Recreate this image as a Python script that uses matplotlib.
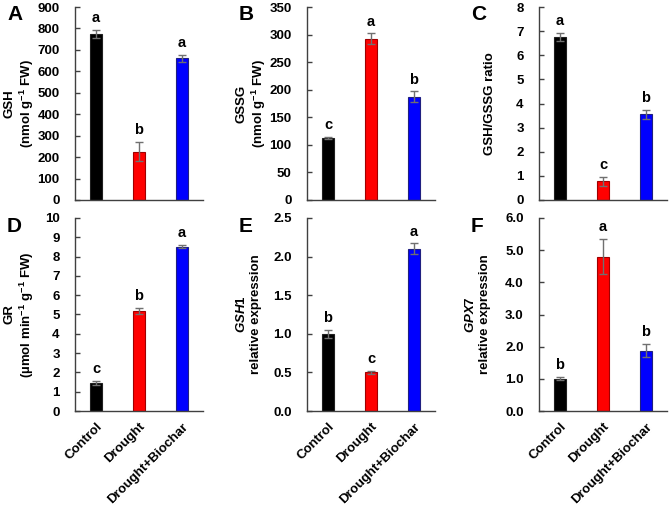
import matplotlib
matplotlib.use("Agg")
import matplotlib.pyplot as plt

plt.rcParams['font.family'] = ['Liberation Sans', 'DejaVu Sans']
plt.rcParams['font.weight'] = 'bold'
plt.rcParams['mathtext.fontset'] = 'custom'
plt.rcParams['mathtext.rm'] = 'Liberation Sans:bold'
plt.rcParams['mathtext.it'] = 'Liberation Sans:bold:italic'

groups = ['Control', 'Drought', 'Drought+Biochar']
colors = ['#000000', '#ff0000', '#0000ff']
edges = ['#202020', '#a00000', '#202080']

gsh = [775, 225, 660]
gsh_err = [20, 45, 15]
gsh_let = ['a', 'b', 'a']

gssg = [113, 292, 187]
gssg_err = [2, 10, 10]
gssg_let = ['c', 'a', 'b']

ratio = [6.75, 0.78, 3.55]
ratio_err = [0.18, 0.18, 0.18]
ratio_let = ['a', 'c', 'b']

gr = [1.47, 5.17, 8.52]
gr_err = [0.1, 0.17, 0.1]
gr_let = ['c', 'b', 'a']

gsh1 = [1.0, 0.5, 2.1]
gsh1_err = [0.05, 0.02, 0.07]
gsh1_let = ['b', 'c', 'a']

gpx7 = [1.0, 4.8, 1.88]
gpx7_err = [0.05, 0.55, 0.2]
gpx7_let = ['b', 'a', 'b']

panels = [
    ('A', gsh, gsh_err, gsh_let, 'GSH\n(nmol g$^{-1}$ FW)', 900, 100, '%d', -0.43),
    ('B', gssg, gssg_err, gssg_let, 'GSSG\n(nmol g$^{-1}$ FW)', 350, 50, '%d', -0.43),
    ('C', ratio, ratio_err, ratio_let, 'GSH/GSSG ratio', 8, 1, '%d', -0.38),
    ('D', gr, gr_err, gr_let, 'GR\n(µmol min$^{-1}$ g$^{-1}$ FW)', 10, 1, '%d', -0.43),
    ('E', gsh1, gsh1_err, gsh1_let, '$\\mathit{GSH1}$\nrelative expression', 2.5, 0.5, '%.1f', -0.46),
    ('F', gpx7, gpx7_err, gpx7_let, '$\\mathit{GPX7}$\nrelative expression', 6.0, 1.0, '%.1f', -0.48),
]

fig = plt.figure(figsize=(6.69, 5.05), dpi=100)

lefts = [75, 307, 539]
width = 128
rows = [(7, 200), (218, 411)]

for i, (tag, vals, errs, lets, ylab, ymax, step, fmt, lx) in enumerate(panels):
    r, c = divmod(i, 3)
    top, bot = rows[r]
    ax = fig.add_axes([lefts[c] / 669, (505 - bot) / 505, width / 669, (bot - top) / 505])
    x = range(len(groups))
    ax.bar(x, vals, width=0.3, color=colors, edgecolor=edges, linewidth=0.8, zorder=2)
    ax.errorbar(x, vals, yerr=errs, fmt='none', ecolor='#707070', elinewidth=1.0,
                capsize=3, capthick=1.0, zorder=3)
    for xi, v, e, l in zip(x, vals, errs, lets):
        ax.text(xi, v + e + ymax * 0.025, l, ha='center', va='bottom', fontsize=10.5, fontweight='bold')
    ax.set_xlim(-0.49, 2.49)
    ax.set_ylim(0, ymax)
    ticks = [k * step for k in range(int(round(ymax / step)) + 1)]
    ax.set_yticks(ticks)
    ax.set_yticklabels([fmt % t for t in ticks], fontsize=9.5, fontweight='bold')
    ax.tick_params(axis='y', direction='in', length=3.5, width=1.0, color='#404040', pad=11)
    ax.tick_params(axis='x', length=0, pad=7)
    for s in ['top', 'right']:
        ax.spines[s].set_visible(False)
    for s in ['left', 'bottom']:
        ax.spines[s].set_color('#404040')
        ax.spines[s].set_linewidth(1.0)
    ax.set_ylabel(ylab, fontsize=9.5, fontweight='bold', linespacing=1.2, va='center')
    ax.yaxis.set_label_coords(lx, 0.5)
    if r == 0:
        ax.set_xticks([])
    else:
        ax.set_xticks(list(x))
        ax.set_xticklabels(groups, rotation=45, ha='right', rotation_mode='anchor',
                           fontsize=9.5, fontweight='bold')
    fig.text((lefts[c] - 68) / 669, (505 - top - 8) / 505, tag, fontsize=15,
             fontweight='bold', ha='left', va='center')

fig.savefig('out.png', dpi=100)
